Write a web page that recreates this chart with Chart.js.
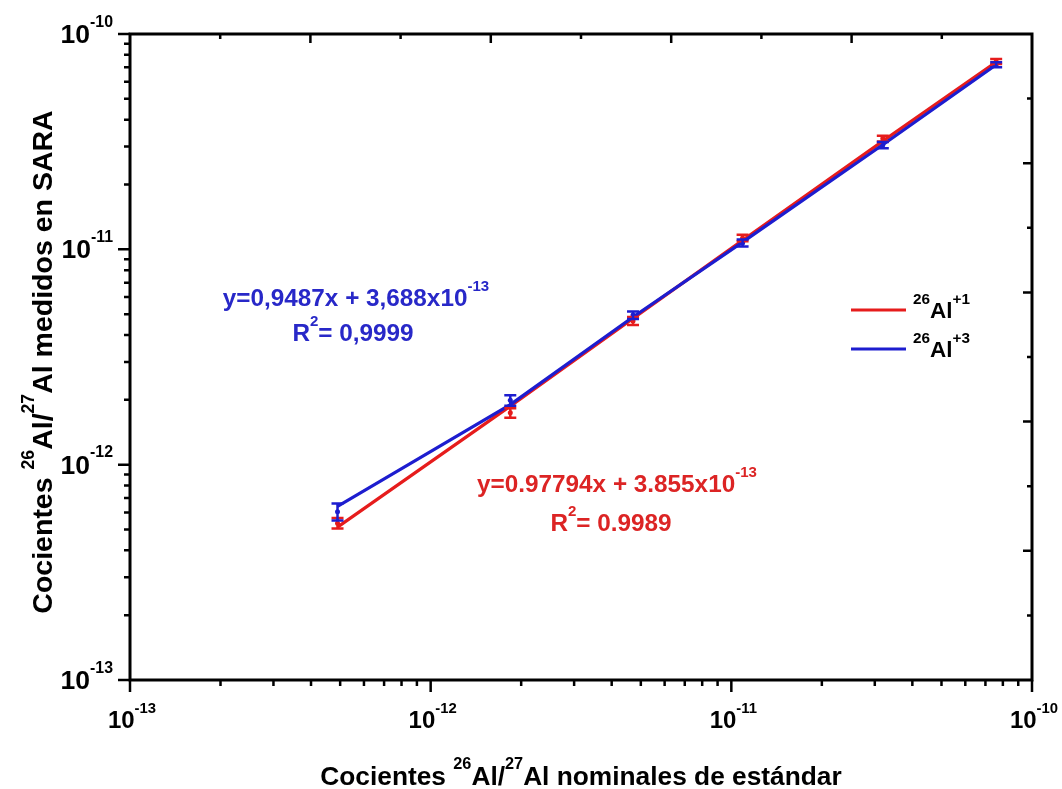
<!DOCTYPE html>
<html>
<head>
<meta charset="utf-8">
<script src="https://cdn.jsdelivr.net/npm/chart.js@4.4.1/dist/chart.umd.min.js"></script>
<style>
  html, body { margin: 0; padding: 0; background: #fff; }
  #wrap { width: 1062px; height: 789px; }
</style>
</head>
<body>
<div id="wrap"><canvas id="ratios" width="1062" height="789"></canvas></div>
<script>
// Nominal 26Al/27Al ratios of the standards
const nominal = [4.9e-13, 1.84e-12, 4.71e-12, 1.09e-11, 3.19e-11, 7.6e-11];

// Measured ratios and their uncertainties, 26Al+1
const measured1 = [5.35e-13, 1.74e-12, 4.65e-12, 1.13e-11, 3.27e-11, 7.45e-11];
const error1 = [0.3e-13, 0.09e-12, 0.2e-12, 0.04e-11, 0.1e-11, 0.2e-11];

// Measured ratios and their uncertainties, 26Al+3
const measured3 = [6.05e-13, 1.99e-12, 4.95e-12, 1.07e-11, 3.05e-11, 7.2e-11];
const error3 = [0.55e-13, 0.11e-12, 0.2e-12, 0.04e-11, 0.1e-11, 0.2e-11];

// Fitted lines through each series
const fit1 = [5.13e-13, 1.87e-12, 4.78e-12, 1.1e-11, 3.18e-11, 7.41e-11];
const fit3 = [6.4e-13, 1.9e-12, 4.85e-12, 1.08e-11, 3.06e-11, 7.2e-11];

// Axis range (decades) and tick divisions of the top/right frame
const axisMin = 1e-13;
const axisMax = 1e-10;
const frameDivisions = 10;

const FONT = '"Liberation Sans", Arial, sans-serif';
const lineRed = '#e61c1c';
const lineBlue = '#1d1dcf';
const textRed = '#dc2424';
const textBlue = '#2828c8';

// Text pieces: [text, superscript?]
const xTitle = [['Cocientes '], ['26', true], ['Al/'], ['27', true], ['Al nominales de estándar']];
const yTitle = [['Cocientes '], ['26', true], ['Al/'], ['27', true], ['Al medidos en SARA']];
const legendItems = [
  { color: lineRed, text: [['26', true], ['Al'], ['+1', true]] },
  { color: lineBlue, text: [['26', true], ['Al'], ['+3', true]] }
];
const notes = [
  { color: textBlue, x: 356, y: 306, text: [['y=0,9487x + 3,688x10'], ['-13', true]] },
  { color: textBlue, x: 353, y: 341, text: [['R'], ['2', true], ['= 0,9999']] },
  { color: textRed, x: 617, y: 492, text: [['y=0.97794x + 3.855x10'], ['-13', true]] },
  { color: textRed, x: 611, y: 531, text: [['R'], ['2', true], ['= 0.9989']] }
];

function richWidth(ctx, segs, size, ratio) {
  let w = 0;
  segs.forEach(([t, sup]) => {
    ctx.font = 'bold ' + (sup ? size * ratio : size) + 'px ' + FONT;
    w += ctx.measureText(t).width;
  });
  return w;
}

function drawRich(ctx, segs, x, y, size, align, ratio = 0.62) {
  const w = richWidth(ctx, segs, size, ratio);
  let cx = x;
  if (align === 'center') cx -= w / 2;
  else if (align === 'right') cx -= w;
  ctx.textAlign = 'left';
  ctx.textBaseline = 'alphabetic';
  segs.forEach(([t, sup]) => {
    const s = sup ? size * ratio : size;
    ctx.font = 'bold ' + s + 'px ' + FONT;
    ctx.fillText(t, cx, sup ? y - size * 0.62 : y);
    cx += ctx.measureText(t).width;
  });
}

function decadeTicks() {
  const ticks = [];
  const lo = Math.round(Math.log10(axisMin));
  const hi = Math.round(Math.log10(axisMax));
  for (let e = lo; e <= hi; e++) {
    ticks.push({ value: Math.pow(10, e), exp: e, major: true });
    if (e < hi) {
      for (let m = 2; m <= 9; m++) ticks.push({ value: m * Math.pow(10, e), major: false });
    }
  }
  return ticks;
}

const framePlugin = {
  id: 'frame',
  afterDatasetsDraw(chart) {
    const ctx = chart.ctx;
    const { x, y } = chart.scales;
    ctx.save();
    // error bars, red first so the blue ones sit on top
    [3, 2].forEach(i => {
      const ds = chart.data.datasets[i];
      ctx.strokeStyle = ds.backgroundColor;
      ctx.lineWidth = 2.5;
      ds.data.forEach((p, k) => {
        const px = x.getPixelForValue(p.x);
        const top = y.getPixelForValue(p.y + ds.errors[k]);
        const bot = y.getPixelForValue(p.y - ds.errors[k]);
        ctx.beginPath();
        ctx.moveTo(px, top); ctx.lineTo(px, bot);
        ctx.moveTo(px - 6, top); ctx.lineTo(px + 6, top);
        ctx.moveTo(px - 6, bot); ctx.lineTo(px + 6, bot);
        ctx.stroke();
      });
    });
    ctx.restore();
  },
  afterDraw(chart) {
    const ctx = chart.ctx;
    const { x, y, x2, y2 } = chart.scales;
    const area = chart.chartArea;
    ctx.save();
    ctx.strokeStyle = '#000';
    ctx.fillStyle = '#000';

    // plot frame
    ctx.lineWidth = 3;
    ctx.strokeRect(area.left, area.top, area.right - area.left, area.bottom - area.top);

    // outward ticks on the log axes
    ctx.lineWidth = 2.5;
    ctx.beginPath();
    decadeTicks().forEach(t => {
      const len = t.major ? 12 : 6;
      const px = x.getPixelForValue(t.value);
      ctx.moveTo(px, area.bottom); ctx.lineTo(px, area.bottom + len);
      const py = y.getPixelForValue(t.value);
      ctx.moveTo(area.left, py); ctx.lineTo(area.left - len, py);
    });
    // inward ticks on the top and right frame
    for (let k = 1; k < frameDivisions; k++) {
      const len = k % 2 === 0 ? 9 : 5;
      const px = x2.getPixelForValue(k);
      ctx.moveTo(px, area.top); ctx.lineTo(px, area.top + len);
      const py = y2.getPixelForValue(k);
      ctx.moveTo(area.right, py); ctx.lineTo(area.right - len, py);
    }
    ctx.stroke();

    // decade labels
    decadeTicks().filter(t => t.major).forEach(t => {
      const label = [['10'], [String(t.exp), true]];
      drawRich(ctx, label, x.getPixelForValue(t.value) + 2, area.bottom + 48, 24, 'center');
      drawRich(ctx, label, area.left - 17, y.getPixelForValue(t.value) + 9, 26.5, 'right', 0.6);
    });

    // axis titles
    drawRich(ctx, xTitle, (area.left + area.right) / 2, 785, 26.3, 'center');
    ctx.save();
    ctx.translate(52, 362);
    ctx.rotate(-Math.PI / 2);
    drawRich(ctx, yTitle, 0, 0, 28.5, 'center');
    ctx.restore();

    // legend
    legendItems.forEach((item, i) => {
      const ly = 310 + i * 39;
      ctx.strokeStyle = item.color;
      ctx.lineWidth = 3;
      ctx.beginPath();
      ctx.moveTo(851, ly); ctx.lineTo(906, ly);
      ctx.stroke();
      ctx.fillStyle = '#000';
      drawRich(ctx, item.text, 913, ly + 8, 22.5, 'left', 0.68);
    });

    // fit equations
    notes.forEach(n => {
      ctx.fillStyle = n.color;
      drawRich(ctx, n.text, n.x, n.y, 24.3, 'center');
    });
    ctx.restore();
  }
};

const points = (xs, ys) => xs.map((v, i) => ({ x: v, y: ys[i] }));

new Chart(document.getElementById('ratios'), {
  type: 'line',
  data: {
    datasets: [
      {
        label: '26Al+3 fit',
        data: points(nominal, fit3),
        borderColor: lineBlue,
        borderWidth: 3.2,
        pointRadius: 0,
        fill: false
      },
      {
        label: '26Al+1 fit',
        data: points(nominal, fit1),
        borderColor: lineRed,
        borderWidth: 3.2,
        pointRadius: 0,
        fill: false
      },
      {
        label: '26Al+3',
        data: points(nominal, measured3),
        errors: error3,
        showLine: false,
        backgroundColor: lineBlue,
        borderColor: lineBlue,
        pointRadius: 2.5,
        pointBorderWidth: 0
      },
      {
        label: '26Al+1',
        data: points(nominal, measured1),
        errors: error1,
        showLine: false,
        backgroundColor: lineRed,
        borderColor: lineRed,
        pointRadius: 2.5,
        pointBorderWidth: 0
      }
    ]
  },
  options: {
    responsive: false,
    animation: false,
    layout: { padding: { left: 130, top: 34, right: 30, bottom: 109 } },
    scales: {
      x: { type: 'logarithmic', min: axisMin, max: axisMax, display: false },
      y: { type: 'logarithmic', min: axisMin, max: axisMax, display: false },
      x2: { type: 'linear', position: 'top', min: 0, max: frameDivisions, display: false },
      y2: { type: 'linear', position: 'right', min: 0, max: frameDivisions, display: false }
    },
    plugins: {
      legend: { display: false },
      tooltip: { enabled: false }
    }
  },
  plugins: [framePlugin]
});
</script>
</body>
</html>
